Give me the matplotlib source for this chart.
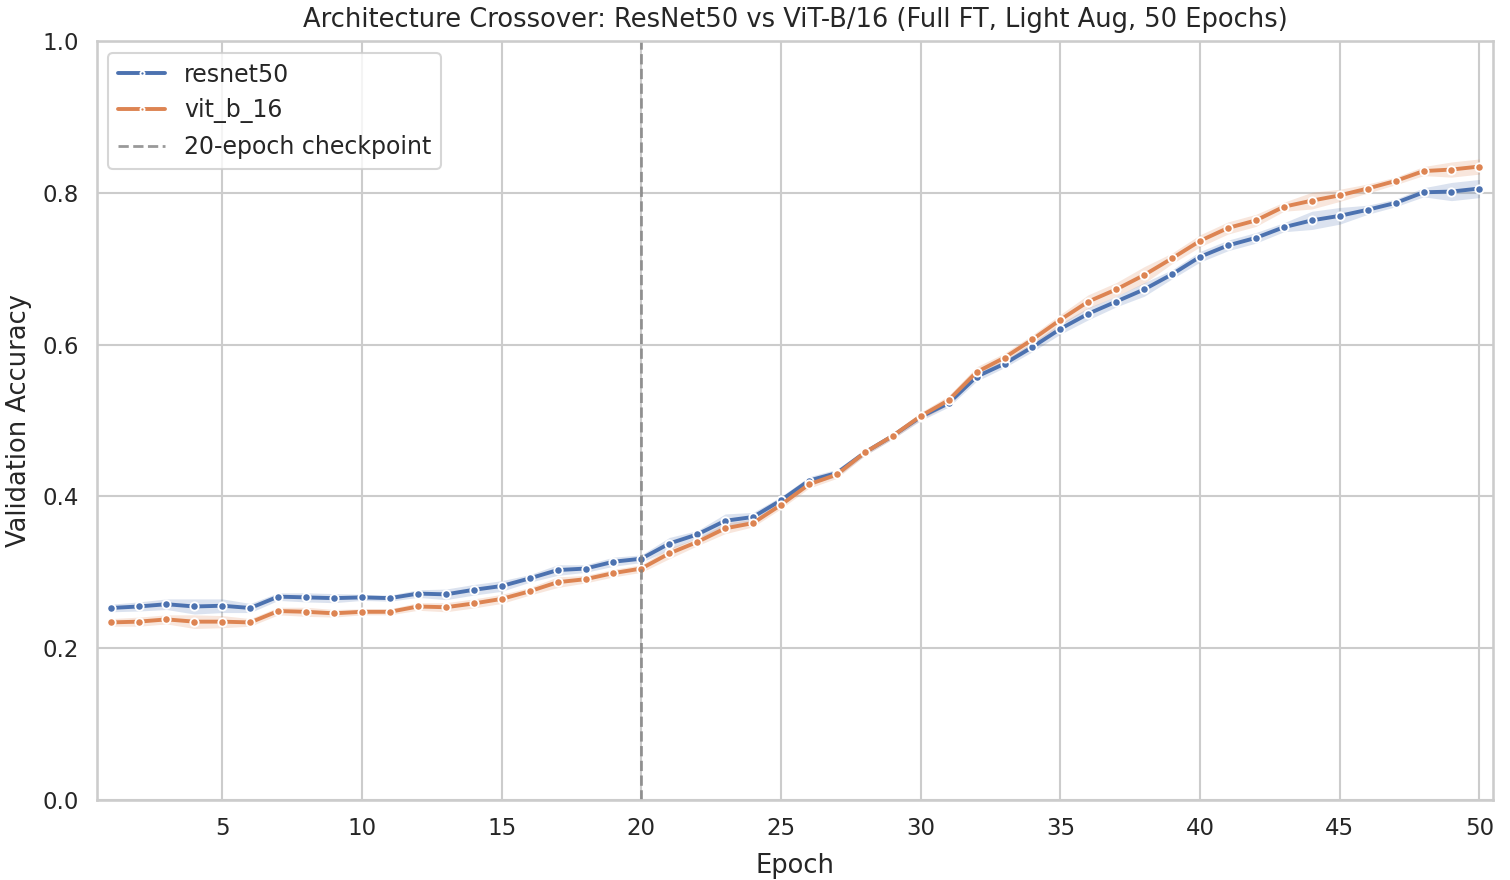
import numpy as np
import matplotlib
matplotlib.use("Agg")
import matplotlib.pyplot as plt
import seaborn as sns

# Data
epochs = list(range(1, 51))

resnet50 = [0.253, 0.255, 0.258, 0.255, 0.256, 0.253, 0.268, 0.267, 0.266, 0.267,
            0.266, 0.272, 0.271, 0.277, 0.282, 0.292, 0.303, 0.305, 0.314, 0.318,
            0.338, 0.350, 0.368, 0.373, 0.395, 0.421, 0.431, 0.458, 0.480, 0.505,
            0.523, 0.558, 0.575, 0.597, 0.621, 0.641, 0.657, 0.673, 0.693, 0.716,
            0.731, 0.741, 0.755, 0.764, 0.770, 0.778, 0.787, 0.801, 0.802, 0.806]
resnet50_ci = [0.005, 0.006, 0.007, 0.010, 0.009, 0.006, 0.005, 0.006, 0.006, 0.004,
               0.004, 0.005, 0.007, 0.007, 0.007, 0.005, 0.007, 0.005, 0.006, 0.005,
               0.008, 0.005, 0.009, 0.006, 0.005, 0.005, 0.005, 0.004, 0.004, 0.005,
               0.005, 0.006, 0.005, 0.006, 0.007, 0.008, 0.007, 0.009, 0.006, 0.007,
               0.007, 0.007, 0.006, 0.012, 0.011, 0.006, 0.005, 0.006, 0.012, 0.012]

vit_b_16 = [0.234, 0.235, 0.238, 0.235, 0.235, 0.234, 0.249, 0.248, 0.246, 0.248,
            0.248, 0.255, 0.254, 0.259, 0.265, 0.275, 0.287, 0.291, 0.299, 0.305,
            0.325, 0.340, 0.358, 0.365, 0.389, 0.416, 0.429, 0.458, 0.480, 0.506,
            0.527, 0.564, 0.583, 0.607, 0.633, 0.657, 0.673, 0.692, 0.714, 0.737,
            0.754, 0.764, 0.782, 0.790, 0.797, 0.806, 0.816, 0.829, 0.831, 0.835]
vit_b_16_ci = [0.005, 0.006, 0.006, 0.009, 0.008, 0.005, 0.005, 0.006, 0.005, 0.004,
               0.004, 0.005, 0.006, 0.006, 0.006, 0.005, 0.007, 0.005, 0.005, 0.005,
               0.007, 0.005, 0.007, 0.005, 0.005, 0.005, 0.005, 0.004, 0.004, 0.005,
               0.006, 0.007, 0.006, 0.006, 0.007, 0.009, 0.009, 0.011, 0.007, 0.008,
               0.008, 0.008, 0.006, 0.011, 0.008, 0.006, 0.005, 0.006, 0.010, 0.010]

checkpoint = 20

sns.set_theme(style="whitegrid", context="talk")

fig, ax = plt.subplots(figsize=(15.1, 8.8), dpi=100)
colors = sns.color_palette("deep")

for name, vals, ci, col in [("resnet50", resnet50, resnet50_ci, colors[0]),
                            ("vit_b_16", vit_b_16, vit_b_16_ci, colors[1])]:
    v = np.array(vals)
    c = np.array(ci)
    ax.fill_between(epochs, v - c, v + c, color=col, alpha=0.2, linewidth=0)
    ax.plot(epochs, v, color=col, lw=2.8, marker="o", markersize=6,
            markeredgecolor="white", markeredgewidth=1.3, label=name)

ax.axvline(checkpoint, color="gray", linestyle="--", lw=2, alpha=0.8,
           label="20-epoch checkpoint")

ax.set_xlim(0.5, 50.5)
ax.set_ylim(0, 1.0)
ax.set_xticks(range(5, 51, 5))
ax.set_yticks(np.arange(0, 1.01, 0.2))
ax.set_title("Architecture Crossover: ResNet50 vs ViT-B/16 (Full FT, Light Aug, 50 Epochs)",
             fontsize=18.5, pad=10)
ax.set_xlabel("Epoch", fontsize=18.5, labelpad=9)
ax.set_ylabel("Validation Accuracy", fontsize=18.5, labelpad=8)
ax.legend(loc="upper left", markerscale=0.5, fontsize=17)

fig.subplots_adjust(left=0.064, right=0.989, top=0.953, bottom=0.091)
fig.savefig("out.png")
